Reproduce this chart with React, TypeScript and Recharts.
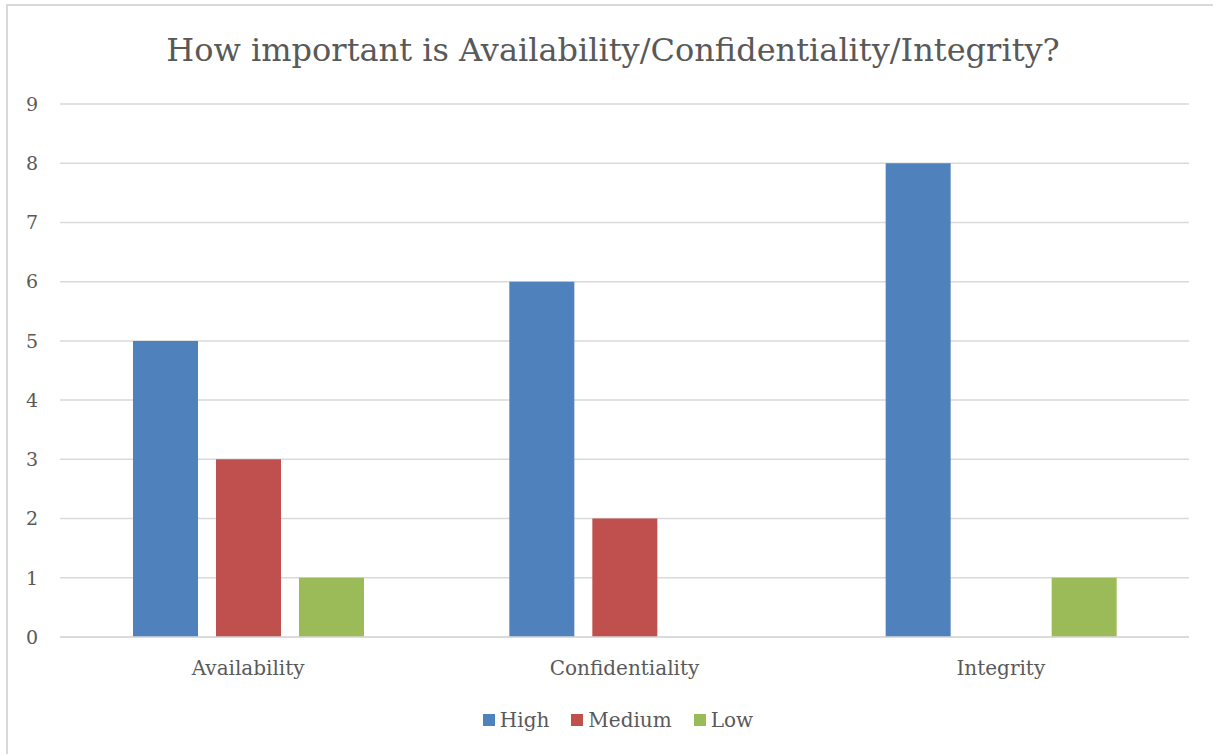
import React from "react";
import { BarChart, Bar, XAxis, YAxis, CartesianGrid } from "recharts";

const categories = ["Availability", "Confidentiality", "Integrity"];
const highValues = [5, 6, 8];
const mediumValues = [3, 2, 0];
const lowValues = [1, 0, 1];
const yTicks = [0, 1, 2, 3, 4, 5, 6, 7, 8, 9];

const series = [
  { key: "High", color: "#4f81bd" },
  { key: "Medium", color: "#c0504d" },
  { key: "Low", color: "#9bbb59" },
];

const FONT = "'DejaVu Serif', serif";
const TEXT = "#595959";
const GRID = "#d9d9d9";

const data = categories.map((name, i) => ({
  name,
  High: highValues[i],
  Medium: mediumValues[i],
  Low: lowValues[i],
}));

export default function App() {
  return (
    <div
      style={{
        position: "fixed",
        left: 0,
        top: 0,
        width: 1213,
        height: 754,
        background: "#fff",
        overflow: "hidden",
      }}
    >
      {/* chart frame */}
      <div
        style={{
          position: "absolute",
          left: 6,
          top: 4,
          width: 1300,
          height: 800,
          borderLeft: `2px solid ${GRID}`,
          borderTop: `2px solid ${GRID}`,
        }}
      />
      <div
        style={{
          position: "absolute",
          left: 0,
          top: 31,
          width: 1226,
          textAlign: "center",
          fontFamily: FONT,
          fontSize: 32,
          lineHeight: "38px",
          color: TEXT,
        }}
      >
        How important is Availability/Confidentiality/Integrity?
      </div>
      <div style={{ position: "absolute", left: 0, top: 0 }}>
        <BarChart
          width={1213}
          height={754}
          data={data}
          barSize={65}
          barGap={18}
          margin={{ top: 104, right: 24, bottom: 87, left: 0 }}
        >
          <CartesianGrid vertical={false} stroke={GRID} strokeWidth={1.5} />
          <XAxis
            dataKey="name"
            axisLine={{ stroke: GRID, strokeWidth: 1.5 }}
            tickLine={false}
            tickSize={0}
            tickMargin={24}
            tick={{ fill: TEXT, fontSize: 20, fontFamily: FONT }}
          />
          <YAxis
            domain={[0, 9]}
            ticks={yTicks}
            width={60}
            axisLine={false}
            tickLine={false}
            tickSize={0}
            tickMargin={22}
            tick={{ fill: TEXT, fontSize: 19, fontFamily: FONT }}
          />
          {series.map((s) => (
            <Bar
              key={s.key}
              dataKey={s.key}
              fill={s.color}
              isAnimationActive={false}
            />
          ))}
        </BarChart>
      </div>
      {/* legend */}
      <div
        style={{
          position: "absolute",
          left: 0,
          top: 706,
          width: 1236,
          display: "flex",
          justifyContent: "center",
          gap: 22,
          fontFamily: FONT,
          fontSize: 20,
          lineHeight: "28px",
          color: TEXT,
        }}
      >
        {series.map((s) => (
          <span key={s.key} style={{ display: "flex", alignItems: "center" }}>
            <span
              style={{
                width: 12,
                height: 12,
                background: s.color,
                marginRight: 5,
                display: "inline-block",
              }}
            />
            {s.key}
          </span>
        ))}
      </div>
    </div>
  );
}
